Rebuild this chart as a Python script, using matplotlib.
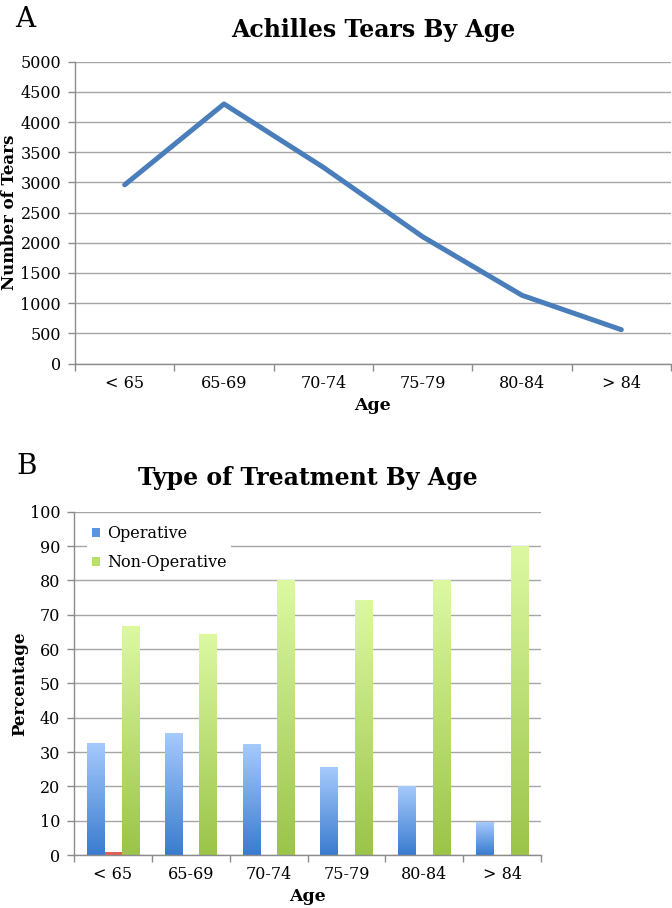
import numpy as np
import matplotlib
matplotlib.use("Agg")
import matplotlib.pyplot as plt
from matplotlib.colors import LinearSegmentedColormap
from matplotlib.patches import Patch

# ---- data ----
age_groups = ["< 65", "65-69", "70-74", "75-79", "80-84", "> 84"]
tears = [2960, 4300, 3250, 2100, 1130, 560]
operative = [32.6, 35.3, 32.1, 25.6, 20.0, 9.4]
other = [0.8, 0, 0, 0, 0, 0]
non_operative = [66.7, 64.3, 80.0, 74.0, 80.0, 90.0]

plt.rcParams["font.family"] = ["DejaVu Serif"]

W, H = 672, 908
fig = plt.figure(figsize=(W / 100, H / 100), dpi=100)

grid_c = "#a6a6a6"
spine_c = "#8c8c8c"


def style_axes(ax, n):
    ax.set_axisbelow(True)
    for s in ("top", "right"):
        ax.spines[s].set_visible(False)
    for s in ("left", "bottom"):
        ax.spines[s].set_color(spine_c)
        ax.spines[s].set_linewidth(1.0)
    ax.yaxis.grid(True, color=grid_c, linewidth=1.0)
    ax.set_xlim(-0.5, n - 0.5)
    ax.set_xticks(np.arange(n + 1) - 0.5)
    ax.set_xticklabels([])
    ax.set_xticks(np.arange(n), minor=True)
    ax.set_xticklabels(age_groups, minor=True, fontsize=11.5)
    ax.tick_params(axis="x", which="major", length=5, color=spine_c, width=1, direction="out")
    ax.tick_params(axis="x", which="minor", length=0, pad=8)
    ax.tick_params(axis="y", length=5, color=spine_c, width=1, direction="out",
                   labelsize=11.5, pad=5)


# ---- Panel A ----
axA = fig.add_axes([75 / W, 1 - 363.5 / H, 596 / W, 301.8 / H])
x = np.arange(len(age_groups))
axA.plot(x, tears, color="#4a7ebb", lw=3.6, solid_capstyle="round",
         solid_joinstyle="round", zorder=3)
style_axes(axA, len(age_groups))
axA.set_ylim(0, 5000)
axA.set_yticks(np.arange(0, 5001, 500))
axA.set_title("Achilles Tears By Age", fontsize=17, fontweight="bold", pad=18)
axA.set_xlabel("Age", fontsize=12.5, fontweight="bold")
axA.xaxis.set_label_coords(0.5, -0.112)
axA.set_ylabel("Number of Tears", fontsize=12, fontweight="bold")
axA.yaxis.set_label_coords(-0.096, 0.5)
fig.text(15 / W, 1 - 27 / H, "A", fontsize=20, va="baseline", ha="left")

# ---- Panel B ----
axB = fig.add_axes([74 / W, 1 - 855 / H, 467 / W, 343.3 / H])
bw = 0.222
op_bars = axB.bar(x - bw, operative, width=bw, color="none", zorder=2)
ot_bars = axB.bar(x, other, width=bw, color="#e0605a", zorder=2)
no_bars = axB.bar(x + bw, non_operative, width=bw, color="none", zorder=2)

cmap_op = LinearSegmentedColormap.from_list("op", ["#a6cafc", "#3a7bcf"])
cmap_no = LinearSegmentedColormap.from_list("no", ["#dcf9a2", "#9bc449"])
grad = np.linspace(0, 1, 256).reshape(-1, 1)
for bars, cm in ((op_bars, cmap_op), (no_bars, cmap_no)):
    for r in bars:
        x0, w, h = r.get_x(), r.get_width(), r.get_height()
        axB.imshow(grad, extent=(x0, x0 + w, 0, h), aspect="auto", cmap=cm,
                   origin="upper", zorder=2, interpolation="bilinear")

style_axes(axB, len(age_groups))
axB.set_ylim(0, 100)
axB.set_yticks(np.arange(0, 101, 10))
axB.set_title("Type of Treatment By Age", fontsize=17, fontweight="bold", pad=19)
axB.set_xlabel("Age", fontsize=12.5, fontweight="bold")
axB.xaxis.set_label_coords(0.5, -0.097)
axB.set_ylabel("Percentage", fontsize=12, fontweight="bold")
axB.yaxis.set_label_coords(-0.097, 0.5)
fig.text(16 / W, 1 - 474 / H, "B", fontsize=20, va="baseline", ha="left")

handles = [Patch(facecolor="#5b95e0", edgecolor="none"),
           Patch(facecolor="#b9e06a", edgecolor="none")]
leg = axB.legend(handles, ["Operative", "Non-Operative"], loc="upper left",
                 bbox_to_anchor=(0.028, 0.975), fontsize=11.5, frameon=True,
                 fancybox=False, framealpha=1, edgecolor="white",
                 handlelength=0.5, handleheight=0.5, handletextpad=0.45,
                 labelspacing=0.75, borderpad=0.3, borderaxespad=0)
leg.get_frame().set_linewidth(0)

fig.savefig("out.png", dpi=100)
